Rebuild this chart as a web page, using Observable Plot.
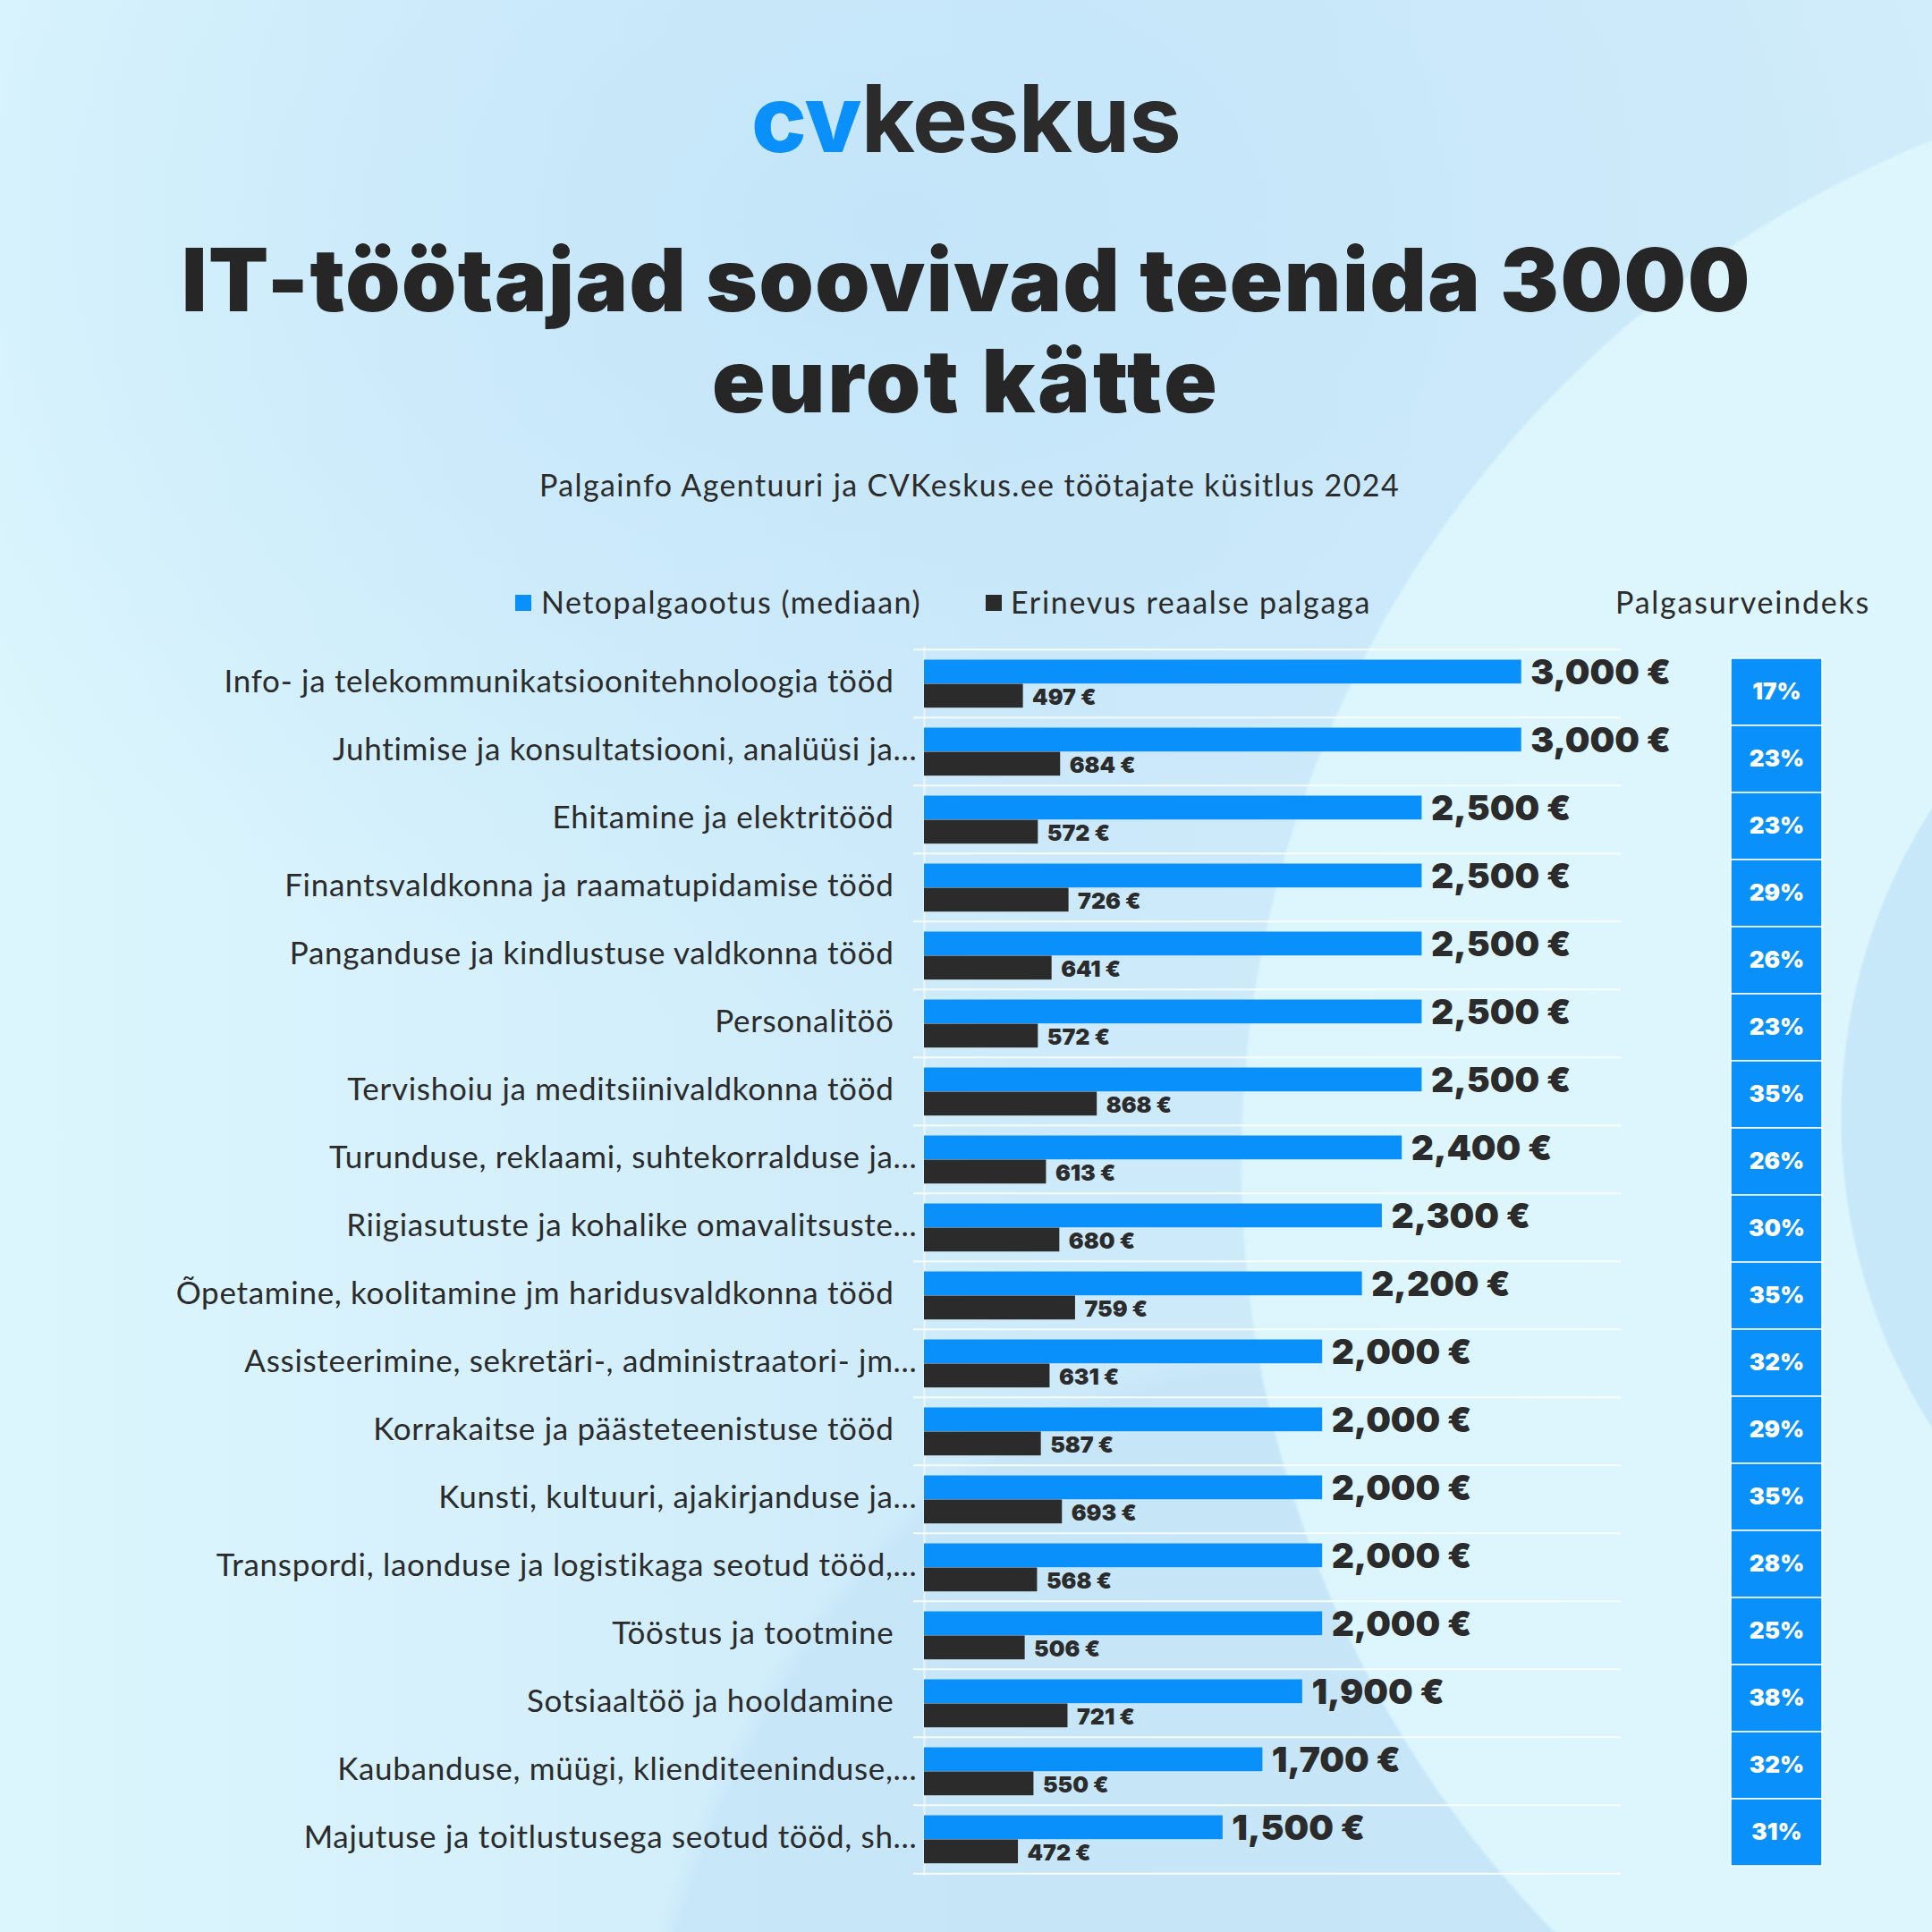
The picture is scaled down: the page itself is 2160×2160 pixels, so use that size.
<!DOCTYPE html>
<html>
<head>
<meta charset="utf-8">
<script src="https://cdn.jsdelivr.net/npm/d3@7"></script>
<script src="https://cdn.jsdelivr.net/npm/@observablehq/plot@0.6"></script>
<style>
  html, body { margin: 0; padding: 0; }
  #page {
    position: relative; width: 2160px; height: 2160px; overflow: hidden;
    background:
      radial-gradient(circle at 2700px 1250px, rgba(196,230,249,0.85) 0 640px, rgba(196,230,249,0) 643px),
      radial-gradient(circle at 2620px 1300px, rgba(222,247,253,0.92) 0 1230px, rgba(222,247,253,0) 1234px),
      radial-gradient(ellipse 760px 1000px at 1450px 2500px, rgba(196,229,248,0.75) 0 97%, rgba(196,229,248,0) 100%),
      radial-gradient(ellipse 1300px 900px at 1000px 250px, #c4e5f9 0%, rgba(198,230,249,0) 100%),
      linear-gradient(90deg, #dcf6fd 0%, #cdeafa 55%, #d2edfa 100%);
    font-family: Lato, "Noto Sans", sans-serif; color: #2b2b2b;
  }
  .abs { position: absolute; white-space: nowrap; line-height: 1; }
  .fit { display: inline-block; }
  #logo { top: 80px; left: 840px; font-family: Inter, sans-serif; font-weight: 700; font-size: 104px; }
  #logo .cv { color: #0990fa; font-weight: 800; }
  .title { font-family: Inter, sans-serif; font-weight: 900; font-size: 98px; color: #262626; }
  #sub { font-size: 34px; color: #2b2b2b; }
  .leg { font-size: 34px; color: #2b2b2b; }
  .sq { position: absolute; width: 18px; height: 18px; }
  svg { position: absolute; overflow: visible; }
</style>
</head>
<body>
<div id="page">
  <div id="logo" class="abs"><span class="fit" data-w="480" data-x="840"><span class="cv">cv</span>keskus</span></div>
  <div class="abs title" id="t1" style="top:264px;left:0"><span class="fit" data-w="1755" data-x="203">IT-töötajad soovivad teenida 3000</span></div>
  <div class="abs title" id="t2" style="top:377px;left:0"><span class="fit" data-w="568" data-x="796">eurot kätte</span></div>
  <div class="abs" id="sub" style="top:525px;left:0"><span class="fit" data-w="962" data-x="603">Palgainfo Agentuuri ja CVKeskus.ee töötajate küsitlus 2024</span></div>
  <div class="sq" style="left:576px;top:665px;background:#0990fa"></div>
  <div class="abs leg" style="top:656px;left:0"><span class="fit" data-w="425" data-x="605">Netopalgaootus (mediaan)</span></div>
  <div class="sq" style="left:1102px;top:665px;background:#2b2b2b"></div>
  <div class="abs leg" style="top:656px;left:0"><span class="fit" data-w="403" data-x="1130">Erinevus reaalse palgaga</span></div>
  <div class="abs leg" style="top:656px;left:0"><span class="fit" data-w="285" data-x="1806">Palgasurveindeks</span></div>
  <div id="chart"></div>
</div>
<script>
const categories = [
  "Info- ja telekommunikatsioonitehnoloogia tööd",
  "Juhtimise ja konsultatsiooni, analüüsi ja...",
  "Ehitamine ja elektritööd",
  "Finantsvaldkonna ja raamatupidamise tööd",
  "Panganduse ja kindlustuse valdkonna tööd",
  "Personalitöö",
  "Tervishoiu ja meditsiinivaldkonna tööd",
  "Turunduse, reklaami, suhtekorralduse ja...",
  "Riigiasutuste ja kohalike omavalitsuste...",
  "Õpetamine, koolitamine jm haridusvaldkonna tööd",
  "Assisteerimine, sekretäri-, administraatori- jm...",
  "Korrakaitse ja päästeteenistuse tööd",
  "Kunsti, kultuuri, ajakirjanduse ja...",
  "Transpordi, laonduse ja logistikaga seotud tööd,...",
  "Tööstus ja tootmine",
  "Sotsiaaltöö ja hooldamine",
  "Kaubanduse, müügi, klienditeeninduse,...",
  "Majutuse ja toitlustusega seotud tööd, sh..."
];
const netopalk = [3000, 3000, 2500, 2500, 2500, 2500, 2500, 2400, 2300, 2200, 2000, 2000, 2000, 2000, 2000, 1900, 1700, 1500];
const erinevus = [497, 684, 572, 726, 641, 572, 868, 613, 680, 759, 631, 587, 693, 568, 506, 721, 550, 472];
const indeks = [17, 23, 23, 29, 26, 23, 35, 26, 30, 35, 32, 29, 35, 28, 25, 38, 32, 31];
const indexHeader = "Palgasurveindeks";

const data = categories.map((c, i) => ({cat: c, neto: netopalk[i], diff: erinevus[i], idx: indeks[i]}));
const BLUE = "#0990fa", DARK = "#2b2b2b";
const fmt = v => d3.format(",")(v) + " €";
const NUM = "Inter, sans-serif";
const LAB = "Lato, sans-serif";

const H = 1420, MT = 23, MB = 23;
const bw = (H - MT - MB) / categories.length;

const main = Plot.plot({
  width: 2160, height: H,
  marginLeft: 1033, marginRight: 348, marginTop: MT, marginBottom: MB,
  style: {background: "transparent", overflow: "visible"},
  x: {domain: [0, 3500], axis: null},
  y: {domain: categories, axis: null, padding: 0},
  marks: [
    Plot.ruleY(data, {y: "cat", dy: -bw / 2, stroke: "#ffffff", strokeOpacity: 0.85, strokeWidth: 2, insetLeft: -12}),
    Plot.ruleY(data.slice(-1), {y: "cat", dy: bw / 2, stroke: "#ffffff", strokeOpacity: 0.85, strokeWidth: 2, insetLeft: -12}),
    Plot.ruleX([0], {stroke: "#ffffff", strokeOpacity: 0.6, strokeWidth: 2}),
    Plot.barX(data, {x: "neto", y: "cat", fill: BLUE, insetTop: 11.5, insetBottom: bw - 38.5}),
    Plot.barX(data, {x: "diff", y: "cat", fill: DARK, insetTop: 38.5, insetBottom: bw - 65.5}),
    Plot.text(data, {x: "neto", y: "cat", text: d => fmt(d.neto), textAnchor: "start", dx: 10, dy: -12,
      fontFamily: NUM, fontWeight: 900, fontSize: 39, fill: DARK}),
    Plot.text(data, {x: "diff", y: "cat", text: d => fmt(d.diff), textAnchor: "start", dx: 10, dy: 15,
      fontFamily: NUM, fontWeight: 900, fontSize: 25, fill: DARK}),
    Plot.text(data.filter(d => !d.cat.endsWith("...")), {x: 0, y: "cat", text: "cat", textAnchor: "end", dx: -34, dy: -2,
      fontFamily: LAB, fontSize: 35, fill: DARK}),
    Plot.text(data.filter(d => d.cat.endsWith("...")), {x: 0, y: "cat", text: "cat", textAnchor: "end", dx: -8, dy: -2,
      fontFamily: LAB, fontSize: 35, fill: DARK})
  ]
});
main.style.left = "0px"; main.style.top = "700px";
d3.select(main).selectAll("g").filter(function() {
  const f = this.getAttribute("font-family");
  return f && f.startsWith("Lato");
}).attr("letter-spacing", "0.7px");

const PH = 1420, PMT = 32, PMB = 31;
const pct = Plot.plot({
  width: 102, height: PH,
  marginLeft: 0, marginRight: 0, marginTop: PMT, marginBottom: PMB,
  style: {background: "transparent", overflow: "visible"},
  x: {domain: [indexHeader], axis: null, padding: 0},
  y: {domain: categories, axis: null, padding: 0},
  marks: [
    Plot.cell(data, {x: () => indexHeader, y: "cat", fill: BLUE, stroke: "#ffffff", strokeWidth: 1.5}),
    Plot.text(data, {x: () => indexHeader, y: "cat", text: d => d.idx + "%", fill: "white",
      fontFamily: NUM, fontWeight: 900, fontSize: 26})
  ]
});
pct.style.left = "1935px"; pct.style.top = "700px";

const chart = document.getElementById("chart");
chart.appendChild(main);
chart.appendChild(pct);

function fitAll() {
  document.querySelectorAll(".fit").forEach(el => {
    el.style.letterSpacing = "0px";
    const w = el.getBoundingClientRect().width;
    const n = el.textContent.length;
    el.style.letterSpacing = ((+el.dataset.w - w) / n) + "px";
    el.parentElement.style.left = el.dataset.x + "px";
  });
}
fitAll();
if (document.fonts) document.fonts.ready.then(fitAll);
</script>
</body>
</html>
